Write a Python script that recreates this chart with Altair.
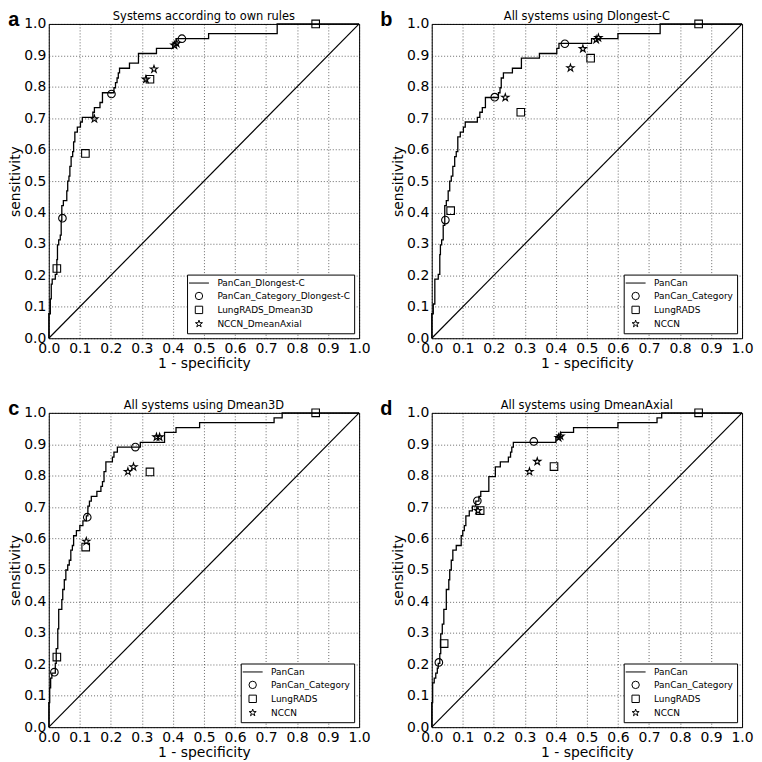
import altair as alt
import pandas as pd

# ---------------- data ----------------
tick_values = [0.0, 0.1, 0.2, 0.3, 0.4, 0.5, 0.6, 0.7, 0.8, 0.9, 1.0]
chance_x = [0.0, 1.0]
chance_y = [0.0, 1.0]

# panel a
a_title = "Systems according to own rules"
a_names = ["PanCan_Dlongest-C", "PanCan_Category_Dlongest-C", "LungRADS_Dmean3D", "NCCN_DmeanAxial"]
a_curve_x = [0, 0, 0.005, 0.005, 0.008, 0.008, 0.011, 0.011, 0.021, 0.021, 0.026, 0.026, 0.028, 0.028,
             0.032, 0.032, 0.037, 0.037, 0.040, 0.040, 0.042, 0.042, 0.047, 0.047, 0.058, 0.058, 0.061,
             0.061, 0.065, 0.065, 0.068, 0.068, 0.072, 0.072, 0.077, 0.077, 0.080, 0.080, 0.084, 0.084,
             0.092, 0.092, 0.102, 0.102, 0.108, 0.108, 0.142, 0.142, 0.147, 0.147, 0.165, 0.165, 0.173,
             0.173, 0.210, 0.210, 0.215, 0.215, 0.220, 0.220, 0.224, 0.224, 0.228, 0.228, 0.260, 0.260,
             0.289, 0.289, 0.347, 0.347, 0.400, 0.400, 0.410, 0.410, 0.515, 0.515, 0.736, 0.736, 1.0]
a_curve_y = [0, 0.078, 0.078, 0.125, 0.125, 0.172, 0.172, 0.188, 0.188, 0.203, 0.203, 0.250, 0.250, 0.297,
             0.297, 0.313, 0.313, 0.328, 0.328, 0.375, 0.375, 0.422, 0.422, 0.438, 0.438, 0.469, 0.469,
             0.500, 0.500, 0.516, 0.516, 0.547, 0.547, 0.578, 0.578, 0.594, 0.594, 0.625, 0.625, 0.656,
             0.656, 0.672, 0.672, 0.688, 0.688, 0.703, 0.703, 0.719, 0.719, 0.734, 0.734, 0.750, 0.750,
             0.781, 0.781, 0.797, 0.797, 0.813, 0.813, 0.828, 0.828, 0.844, 0.844, 0.859, 0.859, 0.875,
             0.875, 0.906, 0.906, 0.922, 0.922, 0.938, 0.938, 0.953, 0.953, 0.969, 0.969, 1.0, 1.0]
a_cat_x = [0.044, 0.202, 0.429]
a_cat_y = [0.382, 0.777, 0.953]
a_lung_x = [0.026, 0.118, 0.326, 0.860]
a_lung_y = [0.222, 0.588, 0.824, 1.0]
a_nccn_x = [0.147, 0.313, 0.339, 0.405, 0.412]
a_nccn_y = [0.698, 0.824, 0.856, 0.932, 0.938]

# panel b
b_title = "All systems using Dlongest-C"
b_names = ["PanCan", "PanCan_Category", "LungRADS", "NCCN"]
b_curve_x = [0, 0, 0.005, 0.005, 0.010, 0.010, 0.021, 0.021, 0.026, 0.026, 0.028, 0.028, 0.032, 0.032,
             0.037, 0.037, 0.042, 0.042, 0.047, 0.047, 0.053, 0.053, 0.058, 0.058, 0.063, 0.063, 0.068,
             0.068, 0.074, 0.074, 0.079, 0.079, 0.084, 0.084, 0.092, 0.092, 0.102, 0.102, 0.108, 0.108,
             0.147, 0.147, 0.155, 0.155, 0.163, 0.163, 0.173, 0.173, 0.215, 0.215, 0.220, 0.220, 0.224,
             0.224, 0.231, 0.231, 0.260, 0.260, 0.289, 0.289, 0.347, 0.347, 0.403, 0.403, 0.410, 0.410,
             0.515, 0.515, 0.600, 0.600, 0.736, 0.736, 1.0]
b_curve_y = [0, 0.078, 0.078, 0.109, 0.109, 0.188, 0.188, 0.203, 0.203, 0.266, 0.266, 0.297, 0.297, 0.313,
             0.313, 0.359, 0.359, 0.422, 0.422, 0.438, 0.438, 0.469, 0.469, 0.500, 0.500, 0.516, 0.516,
             0.547, 0.547, 0.578, 0.578, 0.594, 0.594, 0.641, 0.641, 0.656, 0.656, 0.672, 0.672, 0.688,
             0.688, 0.703, 0.703, 0.719, 0.719, 0.734, 0.734, 0.766, 0.766, 0.781, 0.781, 0.797, 0.797,
             0.828, 0.828, 0.844, 0.844, 0.859, 0.859, 0.891, 0.891, 0.906, 0.906, 0.922, 0.922, 0.938,
             0.938, 0.953, 0.953, 0.969, 0.969, 1.0, 1.0]
b_cat_x = [0.044, 0.203, 0.429]
b_cat_y = [0.376, 0.767, 0.937]
b_lung_x = [0.061, 0.287, 0.512, 0.860]
b_lung_y = [0.406, 0.719, 0.891, 1.0]
b_nccn_x = [0.237, 0.447, 0.487, 0.530, 0.537]
b_nccn_y = [0.766, 0.860, 0.921, 0.950, 0.956]

# panel c
c_title = "All systems using Dmean3D"
c_names = ["PanCan", "PanCan_Category", "LungRADS", "NCCN"]
c_curve_x = [0, 0, 0.003, 0.003, 0.006, 0.006, 0.010, 0.010, 0.021, 0.021, 0.024, 0.024, 0.029, 0.029,
             0.032, 0.032, 0.042, 0.042, 0.045, 0.045, 0.050, 0.050, 0.055, 0.055, 0.061, 0.061, 0.066,
             0.066, 0.071, 0.071, 0.076, 0.076, 0.080, 0.080, 0.089, 0.089, 0.100, 0.100, 0.110, 0.110,
             0.121, 0.121, 0.126, 0.126, 0.131, 0.131, 0.137, 0.137, 0.155, 0.155, 0.168, 0.168, 0.173,
             0.173, 0.178, 0.178, 0.184, 0.184, 0.205, 0.205, 0.210, 0.210, 0.221, 0.221, 0.295, 0.295,
             0.373, 0.373, 0.410, 0.410, 0.486, 0.486, 0.726, 0.726, 0.752, 0.752, 1.0]
c_curve_y = [0, 0.078, 0.078, 0.125, 0.125, 0.156, 0.156, 0.172, 0.172, 0.203, 0.203, 0.250, 0.250, 0.313,
             0.313, 0.375, 0.375, 0.406, 0.406, 0.438, 0.438, 0.469, 0.469, 0.500, 0.500, 0.516, 0.516,
             0.531, 0.531, 0.563, 0.563, 0.578, 0.578, 0.609, 0.609, 0.625, 0.625, 0.641, 0.641, 0.656,
             0.656, 0.672, 0.672, 0.703, 0.703, 0.719, 0.719, 0.734, 0.734, 0.750, 0.750, 0.766, 0.766,
             0.781, 0.781, 0.813, 0.813, 0.844, 0.844, 0.859, 0.859, 0.875, 0.875, 0.891, 0.891, 0.906,
             0.906, 0.938, 0.938, 0.953, 0.953, 0.969, 0.969, 0.984, 0.984, 1.0, 1.0]
c_cat_x = [0.018, 0.124, 0.279]
c_cat_y = [0.175, 0.668, 0.891]
c_lung_x = [0.026, 0.119, 0.326, 0.860]
c_lung_y = [0.223, 0.573, 0.812, 1.0]
c_nccn_x = [0.121, 0.255, 0.273, 0.347, 0.357]
c_nccn_y = [0.591, 0.813, 0.828, 0.923, 0.923]

# panel d
d_title = "All systems using DmeanAxial"
d_names = ["PanCan", "PanCan_Category", "LungRADS", "NCCN"]
d_curve_x = [0, 0, 0.003, 0.003, 0.008, 0.008, 0.013, 0.013, 0.018, 0.018, 0.021, 0.021, 0.026, 0.026,
             0.029, 0.029, 0.034, 0.034, 0.039, 0.039, 0.047, 0.047, 0.055, 0.055, 0.058, 0.058, 0.063,
             0.063, 0.068, 0.068, 0.079, 0.079, 0.095, 0.095, 0.100, 0.100, 0.105, 0.105, 0.110, 0.110,
             0.121, 0.121, 0.131, 0.131, 0.142, 0.142, 0.152, 0.152, 0.158, 0.158, 0.184, 0.184, 0.205,
             0.205, 0.221, 0.221, 0.247, 0.247, 0.254, 0.254, 0.258, 0.258, 0.263, 0.263, 0.400, 0.400,
             0.415, 0.415, 0.457, 0.457, 0.600, 0.600, 0.726, 0.726, 0.741, 0.741, 1.0]
d_curve_y = [0, 0.078, 0.078, 0.141, 0.141, 0.156, 0.156, 0.172, 0.172, 0.188, 0.188, 0.203, 0.203, 0.234,
             0.234, 0.297, 0.297, 0.328, 0.328, 0.375, 0.375, 0.438, 0.438, 0.469, 0.469, 0.500, 0.500,
             0.531, 0.531, 0.563, 0.563, 0.578, 0.578, 0.609, 0.609, 0.625, 0.625, 0.641, 0.641, 0.672,
             0.672, 0.688, 0.688, 0.703, 0.703, 0.719, 0.719, 0.734, 0.734, 0.750, 0.750, 0.797, 0.797,
             0.828, 0.828, 0.844, 0.844, 0.859, 0.859, 0.875, 0.875, 0.891, 0.891, 0.906, 0.906, 0.922,
             0.922, 0.938, 0.938, 0.953, 0.953, 0.969, 0.969, 0.984, 0.984, 1.0, 1.0]
d_cat_x = [0.023, 0.147, 0.329]
d_cat_y = [0.206, 0.720, 0.909]
d_lung_x = [0.040, 0.156, 0.394, 0.860]
d_lung_y = [0.266, 0.689, 0.829, 1.0]
d_nccn_x = [0.149, 0.315, 0.340, 0.409, 0.415]
d_nccn_y = [0.689, 0.813, 0.845, 0.921, 0.926]

# ---------------- styling ----------------
FONT = "DejaVu Sans"
LINE_SYM = "M-2.7,0L2.7,0"
STAR_SYM = ("M0,-1L0.2245,-0.309L0.9511,-0.309L0.3633,0.118L0.5878,0.809L0,0.382"
            "L-0.5878,0.809L-0.3633,0.118L-0.9511,-0.309L-0.2245,-0.309Z")
W = 312
H = 316


def panel(letter, title, names, cx, cy, catx, caty, lungx, lungy, nccnx, nccny, letter_dx):
    curve = pd.DataFrame({"x": cx, "y": cy, "i": list(range(len(cx)))})
    diag = pd.DataFrame({"x": chance_x, "y": chance_y})
    pts = pd.concat([
        pd.DataFrame({"x": catx, "y": caty, "s": names[1]}),
        pd.DataFrame({"x": lungx, "y": lungy, "s": names[2]}),
        pd.DataFrame({"x": nccnx, "y": nccny, "s": names[3]}),
    ], ignore_index=True)

    common = dict(values=tick_values, format=".1f", grid=True, ticks=False, domain=False,
                  labelFlush=False, labelOverlap=False, labelFont=FONT, labelFontSize=14,
                  labelColor="black", labelPadding=3, titleFont=FONT, titleFontSize=14,
                  titleFontWeight="normal", titleColor="black",
                  gridColor="black", gridDash=[1, 2], gridWidth=1, gridOpacity=0.6)
    xenc = alt.X("x:Q", scale=alt.Scale(domain=[0, 1], nice=False),
                 axis=alt.Axis(title="1 - specificity", titlePadding=1, **common))
    yenc = alt.Y("y:Q", scale=alt.Scale(domain=[0, 1], nice=False),
                 axis=alt.Axis(title="sensitivity", titlePadding=1, **common))

    diag_layer = alt.Chart(diag).mark_line(color="black", strokeWidth=1.2).encode(x=xenc, y=yenc)
    curve_layer = alt.Chart(curve).mark_line(color="black", strokeWidth=1.3).encode(
        x=xenc, y=yenc, order=alt.Order("i:Q"))
    pt_layer = alt.Chart(pts).mark_point(filled=False, color="black", strokeWidth=1.1, size=58,
                                         opacity=1).encode(
        x=xenc, y=yenc,
        shape=alt.Shape("s:N",
                        scale=alt.Scale(domain=names, range=[LINE_SYM, "circle", "square", STAR_SYM]),
                        legend=alt.Legend(title=None, orient="bottom-right", offset=5, padding=4,
                                          fillColor="white", strokeColor="black",
                                          labelFont=FONT, labelFontSize=9, labelColor="black",
                                          labelOffset=14, symbolOffset=3.5, symbolSize=55,
                                          symbolStrokeWidth=1, symbolStrokeColor="black",
                                          symbolFillColor="transparent", rowPadding=1)))
    inner = alt.layer(diag_layer, curve_layer, pt_layer).properties(
        width=W, height=H,
        title=alt.TitleParams(title, font=FONT, fontSize=11.5, fontWeight="normal", color="black",
                              anchor="middle", frame="group", offset=-6))
    return alt.vconcat(inner, title=alt.TitleParams(letter, font="Liberation Sans", fontSize=20,
                                                     fontWeight="bold", color="black",
                                                     anchor="start", frame="bounds", offset=-19,
                                                     dx=letter_dx)
                       ).resolve_scale(shape="independent").resolve_legend(shape="independent")


pa = panel("a", a_title, a_names, a_curve_x, a_curve_y, a_cat_x, a_cat_y, a_lung_x, a_lung_y, a_nccn_x, a_nccn_y, 0)
pb = panel("b", b_title, b_names, b_curve_x, b_curve_y, b_cat_x, b_cat_y, b_lung_x, b_lung_y, b_nccn_x, b_nccn_y, -11)
pc = panel("c", c_title, c_names, c_curve_x, c_curve_y, c_cat_x, c_cat_y, c_lung_x, c_lung_y, c_nccn_x, c_nccn_y, 0)
pd_ = panel("d", d_title, d_names, d_curve_x, d_curve_y, d_cat_x, d_cat_y, d_lung_x, d_lung_y, d_nccn_x, d_nccn_y, -11)

top = alt.hconcat(pa, pb, spacing=9).resolve_scale(shape="independent").resolve_legend(shape="independent")
bottom = alt.hconcat(pc, pd_, spacing=9).resolve_scale(shape="independent").resolve_legend(shape="independent")

chart = alt.vconcat(
    top, bottom,
    spacing=28,
    padding={"left": 0, "top": 0, "right": 0, "bottom": 0},
    background="white",
).resolve_scale(shape="independent").resolve_legend(shape="independent").configure_view(
    stroke="black", strokeWidth=1)

chart.save("out.html", embed_options={"renderer": "svg", "actions": False})
